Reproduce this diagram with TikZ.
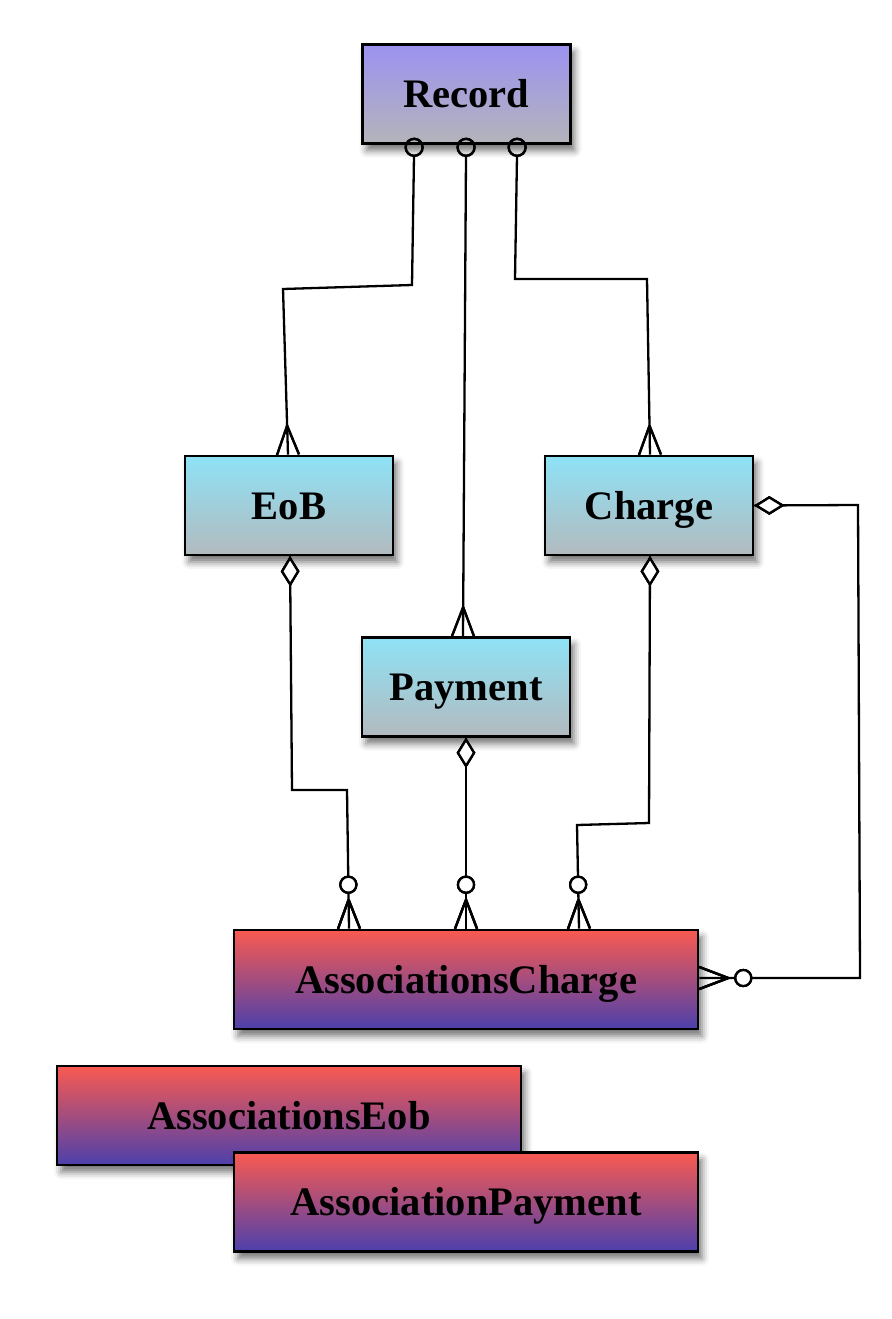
\documentclass[tikz,border=0pt]{standalone}
\usepackage{fontspec}
\setmainfont{Liberation Serif}
\usetikzlibrary{shadows.blur,decorations.markings}
\definecolor{rectop}{RGB}{156,146,240}
\definecolor{recbot}{RGB}{180,180,186}
\definecolor{cyantop}{RGB}{142,226,246}
\definecolor{cyanbot}{RGB}{178,186,190}
\definecolor{redtop}{RGB}{250,90,80}
\definecolor{redbot}{RGB}{76,64,172}
\tikzset{
  entity/.style={draw, line width=2.6pt, minimum width=208pt, minimum height=99pt,
    font=\fontsize{40.5}{46}\selectfont\bfseries, text height=27pt, text depth=0pt,
    blur shadow={shadow xshift=4pt, shadow yshift=-7pt, shadow blur radius=7pt, shadow opacity=55}},
  rootbox/.style={entity, top color=rectop, bottom color=recbot},
  tablebox/.style={entity, top color=cyantop, bottom color=cyanbot},
  assocbox/.style={entity, minimum width=464pt, top color=redtop, bottom color=redbot},
  link/.style={line width=2.3pt, line join=miter},
  crowend/.style={postaction=decorate, decoration={markings,
    mark=at position 1 with {\draw[line width=2.3pt] (-29pt,0) -- (0,11pt) (-29pt,0) -- (0,-11pt);}}},
  ringend/.style={postaction=decorate, decoration={markings,
    mark=at position -44pt with {\draw[line width=2.3pt, fill=white] (0,0) circle (8pt);}}},
  ringstart/.style={postaction=decorate, decoration={markings,
    mark=at position 0.01pt with {\draw[line width=2.3pt] (-8.5pt,0) circle (8.5pt);}}},
  diamondstart/.style={postaction=decorate, decoration={markings,
    mark=at position 1pt with {\draw[line width=2.3pt, fill=white] (1pt,0) -- (14pt,8pt) -- (27pt,0) -- (14pt,-8pt) -- cycle;}}}
}
\begin{document}
\begin{tikzpicture}[x=1pt,y=-1pt]
  \useasboundingbox (0,0) rectangle (891,1319);

  \node[rootbox] (rec) at (466.5,94) {Record};
  \node[tablebox] (eob) at (289,505.5) {EoB};
  \node[tablebox] (chg) at (649,505.5) {Charge};
  \node[tablebox] (pay) at (466,687) {Payment};
  \node[assocbox] (asc) at (466,979.5) {AssociationsCharge};
  \node[assocbox] (aseob) at (289,1115.5) {AssociationsEob};
  \node[assocbox] (aspay) at (466,1202) {AssociationPayment};

  \draw[link,ringstart,crowend] ([yshift=-11pt]rec.south -| 414,0) -- (412,285) -- (283,289) -- (eob.north -| 288,0);
  \draw[link,ringstart,crowend] ([yshift=-11pt]rec.south -| 466,0) -- (pay.north -| 463,0);
  \draw[link,ringstart,crowend] ([yshift=-11pt]rec.south -| 517,0) -- (515,279) -- (647,279) -- (chg.north -| 650,0);

  \draw[link,diamondstart,ringend,crowend] (eob.south -| 290,0) -- (292,790) -- (347,790) -- (asc.north -| 349,0);
  \draw[link,diamondstart,ringend,crowend] (pay.south -| 466,0) -- (asc.north -| 466,0);
  \draw[link,diamondstart,ringend,crowend] (chg.south -| 650,0) -- (649,823) -- (577,825) -- (asc.north -| 579,0);
  \draw[link,diamondstart,ringend,crowend] (chg.east) -- (858,505) -- (860,978) -- (asc.east |- 0,978);
\end{tikzpicture}
\end{document}
